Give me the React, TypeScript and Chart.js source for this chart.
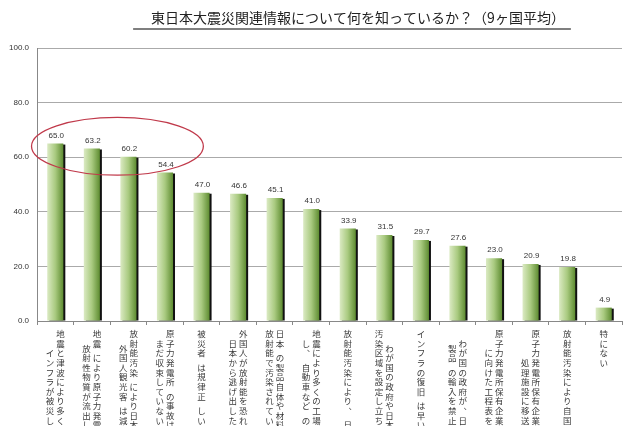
import React, { useEffect, useRef } from "react";
import { Chart, registerables, Plugin } from "chart.js";

Chart.register(...registerables);

const titleText = "東日本大震災関連情報について何を知っているか？（9ヶ国平均）";

// each category label: vertical columns, right column first
const categoryLines: string[][] = [
  ["地震と津波により多くの", "    インフラが被災した"],
  ["地震 により原子力発電所から", "   放射性物質が流出した"],
  ["放射能汚染 により日本への", "   外国人観光客 は減少した"],
  ["原子力発電所 の事故は", "  まだ収束していない"],
  ["被災者 は規律正 しい"],
  ["外国人が放射能を恐れ", "  日本から逃げ出した"],
  ["日本 の製品自体や材料が", "放射能で汚染されている"],
  ["地震により多くの工場が被災", "  し、 自動車など の製造業に影響"],
  ["放射能汚染により、 日本の食品は危険"],
  ["   わが国の政府や日本政府が", "汚染区域を設定し立ち入りを禁止"],
  ["インフラの復旧 は早い"],
  ["  わが国の政府が、日本", "   製品 の輸入を禁止または制限"],
  ["原子力発電所保有企業が事故収束", "    に向けた工程表を発表"],
  ["原子力発電所保有企業が汚染水を", "      処理施設に移送"],
  ["放射能汚染により自国への影響がある"],
  ["特にない"],
];

const values = [65.0, 63.2, 60.2, 54.4, 47.0, 46.6, 45.1, 41.0, 33.9, 31.5, 29.7, 27.6, 23.0, 20.9, 19.8, 4.9];

const labels = categoryLines.map((cols) => cols.join(""));

const cjk = '"Noto Sans CJK JP", sans-serif';
const latin = '"Liberation Sans", Arial, sans-serif';

const titlePlugin: Plugin<"bar"> = {
  id: "titlePlugin",
  afterDraw(chart) {
    const { ctx } = chart;
    ctx.save();
    ctx.font = `14px ${cjk}`;
    ctx.fillStyle = "#222";
    ctx.textAlign = "center";
    ctx.textBaseline = "middle";
    const cx = 358;
    ctx.fillText(titleText, cx, 18);
    const w = ctx.measureText(titleText).width;
    ctx.strokeStyle = "#555";
    ctx.lineWidth = 1.3;
    ctx.beginPath();
    ctx.moveTo(cx - w / 2 - 18, 29);
    ctx.lineTo(cx + w / 2 + 6, 29);
    ctx.stroke();
    ctx.restore();
  },
};

const barShadow: Plugin<"bar"> = {
  id: "barShadow",
  beforeDatasetsDraw(chart) {
    const { ctx } = chart;
    const meta = chart.getDatasetMeta(0);
    ctx.save();
    ctx.fillStyle = "#111";
    meta.data.forEach((el: any) => {
      const h = el.base - el.y - 1;
      if (h > 0) ctx.fillRect(el.x - el.width / 2 + 2, el.y + 1, el.width, h);
    });
    ctx.restore();
  },
};

const valueLabels: Plugin<"bar"> = {
  id: "valueLabels",
  afterDatasetsDraw(chart) {
    const { ctx } = chart;
    const meta = chart.getDatasetMeta(0);
    ctx.save();
    ctx.font = `8px ${latin}`;
    ctx.fillStyle = "#333";
    ctx.textAlign = "center";
    ctx.textBaseline = "bottom";
    meta.data.forEach((el: any, i: number) => {
      ctx.fillText(values[i].toFixed(1), el.x + 1, el.y - 4);
    });
    ctx.restore();
  },
};

const highlightEllipse: Plugin<"bar"> = {
  id: "highlightEllipse",
  afterDatasetsDraw(chart) {
    const { ctx, scales } = chart;
    const xs = scales.x;
    const ys = scales.y;
    const step = xs.getPixelForValue(1) - xs.getPixelForValue(0);
    const cx = xs.getPixelForValue(1.7);
    const cy = ys.getPixelForValue(64);
    const rx = step * 2.35;
    const ry = ys.getPixelForValue(53.4) - cy;
    ctx.save();
    ctx.strokeStyle = "#c0394a";
    ctx.lineWidth = 1.3;
    ctx.beginPath();
    ctx.ellipse(cx, cy, rx, ry, 0, 0, Math.PI * 2);
    ctx.stroke();
    ctx.restore();
  },
};

const verticalLabels: Plugin<"bar"> = {
  id: "verticalLabels",
  afterDraw(chart) {
    const { ctx, scales } = chart;
    const xs = scales.x;
    const top = xs.top + 13;
    const step = 9.6;
    const colGap = 10.5;
    ctx.save();
    ctx.font = `8.5px ${cjk}`;
    ctx.fillStyle = "#3a3a3a";
    ctx.textAlign = "center";
    ctx.textBaseline = "middle";
    categoryLines.forEach((cols, i) => {
      const cx = xs.getPixelForValue(i);
      cols.forEach((col, j) => {
        const x = cx + ((cols.length - 1) / 2 - j) * colGap;
        let y = top;
        for (const ch of Array.from(col)) {
          if (ch === " ") {
            y += step / 2;
            continue;
          }
          if (ch === "、" || ch === "。") ctx.fillText(ch, x + 5, y - 5);
          else ctx.fillText(ch, x, y);
          y += step;
        }
      });
    });
    ctx.restore();
  },
};

const App: React.FC = () => {
  const chartRef = useRef<HTMLCanvasElement>(null);

  useEffect(() => {
    if (!chartRef.current) return;

    const myChart = new Chart(chartRef.current, {
      type: "bar",
      data: {
        labels: labels,
        datasets: [
          {
            data: values,
            categoryPercentage: 0.44,
            barPercentage: 1,
            borderWidth: 0,
            backgroundColor: (c: any) => {
              const xs = c.chart.scales?.x;
              if (!xs || c.type !== "data") return "#9cc06c";
              const cx = xs.getPixelForValue(c.dataIndex);
              const w = (xs.getPixelForValue(1) - xs.getPixelForValue(0)) * 0.44;
              if (!isFinite(cx) || !isFinite(w)) return "#9cc06c";
              const g = c.chart.ctx.createLinearGradient(cx - w / 2, 0, cx + w / 2, 0);
              g.addColorStop(0, "#dbeac3");
              g.addColorStop(0.5, "#a9ca80");
              g.addColorStop(1, "#5e8c31");
              return g;
            },
          },
        ],
      },
      options: {
        animation: false,
        responsive: true,
        maintainAspectRatio: false,
        layout: { padding: { top: 48, right: 18, left: 0, bottom: 0 } },
        plugins: {
          legend: { display: false },
          tooltip: { enabled: false },
          title: { display: false },
        },
        scales: {
          x: {
            grid: {
              offset: true,
              drawOnChartArea: false,
              drawTicks: true,
              tickLength: 4,
              color: "#888",
            },
            border: { color: "#888" },
            ticks: { callback: () => "", autoSkip: false, maxRotation: 0 },
            afterFit: (scale: any) => {
              scale.height = 105;
            },
          },
          y: {
            min: 0,
            max: 100,
            ticks: {
              stepSize: 20,
              padding: 8,
              color: "#333",
              font: { size: 8, family: latin },
              callback: (v: any) => Number(v).toFixed(1),
            },
            grid: { color: "#aaa", drawTicks: false },
            border: { color: "#888" },
            afterFit: (scale: any) => {
              scale.width = 37;
            },
          },
        },
      },
      plugins: [barShadow, valueLabels, highlightEllipse, verticalLabels, titlePlugin],
    });

    return () => {
      myChart.destroy();
    };
  }, []);

  return (
    <div style={{ position: "absolute", left: 0, top: 0, width: 640, height: 426, background: "#fff" }}>
      <canvas ref={chartRef} />
    </div>
  );
};

export default App;
